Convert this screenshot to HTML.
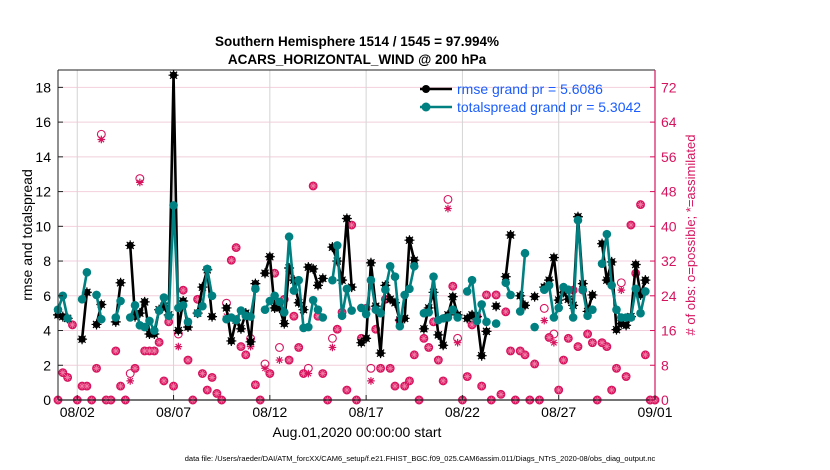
<!DOCTYPE html>
<html><head><meta charset="utf-8"><style>
html,body{margin:0;padding:0;background:#fff;}
svg{display:block;font-family:"Liberation Sans",sans-serif;}
</style></head><body>
<svg id="chart" width="830" height="470" viewBox="0 0 830 470">
<text x="357" y="46" text-anchor="middle" font-size="13.5" font-weight="bold">Southern Hemisphere 1514 / 1545 = 97.994%</text>
<text x="357" y="64" text-anchor="middle" font-size="13.5" font-weight="bold">ACARS_HORIZONTAL_WIND @ 200 hPa</text>
<g id="grid"></g>
<g id="marks"></g>
<g id="axes"></g>
<text x="0" y="0" transform="translate(32,235) rotate(-90)" text-anchor="middle" font-size="14">rmse and totalspread</text>
<text x="0" y="0" transform="translate(695,235) rotate(-90)" text-anchor="middle" font-size="13" fill="#d6145e"># of obs: o=possible; *=assimilated</text>
<text x="357" y="437" text-anchor="middle" font-size="14">Aug.01,2020 00:00:00 start</text>
<text x="420" y="461" text-anchor="middle" font-size="7.5">data file: /Users/raeder/DAI/ATM_forcXX/CAM6_setup/f.e21.FHIST_BGC.f09_025.CAM6assim.011/Diags_NTrS_2020-08/obs_diag_output.nc</text>
<g>
<line x1="420" y1="89" x2="452" y2="89" stroke="#000" stroke-width="2.5"/>
<circle cx="426" cy="89" r="4" fill="#000"/>
<text x="457" y="94" font-size="14" fill="#1a5cff">rmse grand pr = 5.6086</text>
<line x1="420" y1="107" x2="452" y2="107" stroke="#008080" stroke-width="2.5"/>
<circle cx="426" cy="107" r="4.5" fill="#008080"/>
<text x="457" y="112" font-size="14" fill="#1a5cff">totalspread grand pr = 5.3042</text>
</g>
</svg>
<script>
const _=null;
const rmse=[4.9,4.8,4.7,_,_,3.5,6.2,_,4.35,5.5,_,_,4.5,6.75,_,8.9,4.8,5.0,5.65,3.8,3.8,5.2,5.4,4.9,18.7,4.0,5.7,4.2,_,5.0,6.5,7.5,4.8,_,_,5.3,3.4,4.6,4.1,5.0,3.35,6.7,_,7.3,8.25,5.3,5.3,4.4,7.6,6.9,5.6,5.2,7.65,7.55,6.6,7.0,_,8.8,8.0,6.9,10.45,6.5,_,3.3,3.55,7.9,5.4,2.7,6.6,5.8,5.6,4.6,4.7,9.2,8.05,_,4.1,5.3,6.2,3.75,3.15,4.9,5.95,4.9,_,4.7,4.9,4.8,2.55,3.95,_,5.4,_,7.1,9.5,_,6.0,5.45,_,5.95,_,6.5,6.9,8.2,5.75,6.2,5.8,5.45,10.55,6.7,5.1,6.05,_,9.0,6.9,7.95,4.05,4.4,4.3,4.8,7.8,6.05,6.9,_,_];
const spread=[5.2,6.0,4.7,_,_,5.8,7.35,_,6.05,4.65,_,_,4.75,5.7,_,4.75,5.45,4.3,4.2,4.55,4.0,5.15,5.9,4.85,11.2,5.3,5.45,4.5,_,5.0,5.4,7.55,6.0,_,_,4.65,4.75,4.6,5.15,4.85,4.8,6.4,_,5.2,5.7,6.0,5.65,5.05,9.4,6.3,6.9,4.15,4.2,5.75,5.2,4.75,_,6.9,8.9,4.85,6.4,5.15,_,5.3,4.95,6.9,5.2,5.0,6.35,7.7,7.1,4.25,6.05,6.4,7.7,_,5.0,5.05,7.1,4.6,4.7,4.75,5.2,4.75,_,6.25,6.9,4.55,5.5,4.5,_,4.4,_,6.75,6.05,_,5.1,8.45,_,4.2,_,6.35,6.6,4.75,5.3,6.5,6.35,4.75,10.35,6.35,4.85,5.2,_,7.85,9.55,6.6,5.2,4.75,4.75,4.75,6.4,5.0,6.25,_,_];
const assim=[0,6.3,5.2,17.3,0,3.2,3.2,0,7.3,60,0,0,11.3,3.2,0,4.4,7.3,50.1,11.3,11.3,11.3,13.3,4.4,18,3.2,12.3,25.3,9.2,0,23.2,6.1,2.3,5.2,1.5,0,19.3,32.2,35.1,12.3,10.4,12.3,3.5,0,7.3,6.1,29.2,9.2,23.2,9.2,19.3,12.1,6.1,6.1,49.3,19.3,6.1,0,12.1,16.3,20.2,2.3,40.3,0,14.2,21.1,4.4,16.3,7.3,23.2,7.3,3.2,18.3,3.2,4.4,10.4,0,14.2,12.1,18,9.2,4.4,44.1,26.2,13.2,0,5.4,17.3,19.3,3.2,24.2,0,24.2,1.3,20.3,11.3,0,11.3,10.4,0,8.3,0,18.3,14.4,13.2,2.3,9.2,14.2,25.3,12.3,25.3,15.2,13.2,0,13.2,12.3,2.3,7.3,25.3,5.4,40.3,29.2,45,10.4,0,0];
const possible=[0,6.3,5.2,17.3,0,3.2,3.2,0,7.3,61.2,0,0,11.3,3.2,0,6.1,7.3,51,11.3,11.3,11.3,13.3,4.4,18,3.2,15.2,25.3,9.2,0,23.2,6.1,2.3,5.2,1.5,0,22.3,32.2,35.1,12.3,10.4,14.2,3.5,0,8.3,6.1,29.2,12.1,23.2,9.2,19.3,12.1,6.1,7.3,49.3,19.3,6.1,0,14.2,16.3,20.2,2.3,40.3,0,14.2,21.1,7.3,16.3,7.3,23.2,7.3,3.2,18.3,3.2,4.4,10.4,0,14.2,12.1,18,9.2,4.4,46.2,26.2,14.2,0,5.4,17.3,19.3,3.2,24.2,0,24.2,1.3,20.3,11.3,0,11.3,10.4,0,8.3,0,21.1,14.4,15.2,2.3,9.2,14.2,25.3,12.3,25.3,15.2,13.2,0,13.2,12.3,2.3,7.3,27,5.4,40.3,29.2,45,10.4,0,0];
const leftTicks=[0,2,4,6,8,10,12,14,16,18];
const rightTicks=[0,8,16,24,32,40,48,56,64,72];
const dateLabels=["08/02","08/07","08/12","08/17","08/22","08/27","09/01"];
const dateDays=[1,6,11,16,21,26,31];

const L=58,R=655,T=70,B=400,nSlots=124;
const NS='http://www.w3.org/2000/svg';
function xS(i){return L+i*(R-L)/nSlots;}
function xD(d){return L+d*(R-L)/31;}
function yL(v){return B-v*(B-T)/19;}
function yR(n){return B-n*(B-T)/76;}
function mk(tag,attrs,parent){const e=document.createElementNS(NS,tag);for(const k in attrs)e.setAttribute(k,attrs[k]);parent.appendChild(e);return e;}
const grid=document.getElementById('grid'),marks=document.getElementById('marks'),axes=document.getElementById('axes');

rightTicks.forEach(n=>{if(n>0){const l=mk('line',{x1:L,x2:R,y1:yR(n),y2:yR(n),stroke:'#f2cfdc','stroke-width':1},grid);

}});
dateDays.forEach(d=>{if(d<31){const l=mk('line',{x1:xD(d),x2:xD(d),y1:T,y2:B,stroke:'#d4d4d4','stroke-width':1},grid);

}});

function star(cx,cy,r,col,parent,w){
  let d='';for(let k=0;k<4;k++){const a=k*Math.PI/4;d+=`M${cx-r*Math.cos(a)},${cy-r*Math.sin(a)}L${cx+r*Math.cos(a)},${cy+r*Math.sin(a)}`;}
  return mk('path',{d:d,stroke:col,'stroke-width':w||1.2,fill:'none'},parent);
}
possible.forEach((n,i)=>{if(n===null)return;
  const same=assim[i]===n;
  const c=mk('circle',{cx:xS(i),cy:yR(n),r:3.9,fill:same?'#dc1762':'none',stroke:'#d6145e','stroke-width':1.1},marks);
  
  });
assim.forEach((n,i)=>{if(n===null)return;
  const same=assim[i]===possible[i];
  const s=star(xS(i),yR(n),same?3.2:3.8,same?'#ee7fa6':'#d6145e',marks,same?0.8:1.2);
  
  });

function series(arr,col,name,isStar){
  let d='',pen=false;
  arr.forEach((v,i)=>{if(v===null){pen=false;return;}d+=(pen?'L':'M')+xS(i)+','+yL(v);pen=true;});
  const p=mk('path',{d:d,stroke:col,'stroke-width':2.6,fill:'none','stroke-linejoin':'round'},marks);
  
  
  arr.forEach((v,i)=>{if(v===null)return;
    const c=mk('circle',{cx:xS(i),cy:yL(v),r:isStar?3.6:4.3,fill:col},marks);
    
    
    if(isStar){star(xS(i),yL(v),5,col,marks);}
  });
}
series(rmse,'#000','rmse',true);
series(spread,'#008080','totalspread',false);

mk('line',{x1:L,x2:R,y1:T,y2:T,stroke:'#222','stroke-width':1},axes);
mk('line',{x1:L,x2:L,y1:T,y2:B,stroke:'#222','stroke-width':1},axes);
mk('line',{x1:L,x2:R,y1:B,y2:B,stroke:'#222','stroke-width':1.2},axes);
mk('line',{x1:R,x2:R,y1:T,y2:B,stroke:'#d6145e','stroke-width':1.2},axes);
leftTicks.forEach(v=>{
  mk('line',{x1:L,x2:L+5,y1:yL(v),y2:yL(v),stroke:'#222'},axes);
  const t=mk('text',{x:L-7,y:yL(v)+5,'text-anchor':'end','font-size':14},axes);t.textContent=v;
  
  });
rightTicks.forEach(n=>{
  mk('line',{x1:R-5,x2:R,y1:yR(n),y2:yR(n),stroke:'#d6145e'},axes);
  const t=mk('text',{x:R+6,y:yR(n)+5,'font-size':14,fill:'#d6145e'},axes);t.textContent=n;
  
  });
dateLabels.forEach((s,k)=>{
  const x=xD(dateDays[k]);
  mk('line',{x1:x,x2:x,y1:B-5,y2:B,stroke:'#222'},axes);
  const t=mk('text',{x:x,y:417,'text-anchor':'middle','font-size':14},axes);t.textContent=s;
  
  });
</script>
</body></html>
